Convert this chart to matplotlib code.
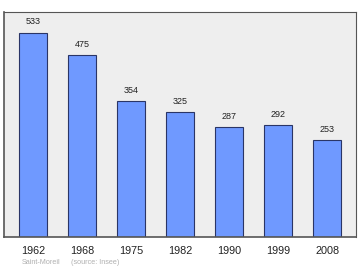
import matplotlib
matplotlib.use("Agg")
from matplotlib import pyplot as plt

years = ["1962", "1968", "1975", "1982", "1990", "1999", "2008"]
population = [533, 475, 354, 325, 287, 292, 253]

plt.rcParams["font.family"] = "Liberation Sans"

fig = plt.figure(figsize=(3.6, 2.7), dpi=100)
ax = fig.add_axes([4 / 360, 1 - 237 / 270, 352 / 360, 225 / 270])
ax.set_facecolor("#eeeeee")

x = list(range(len(years)))
ax.bar(x, population, width=0.57, color="#6f99ff", edgecolor="#2a3566", linewidth=0.8)

for xi, v in zip(x, population):
    ax.annotate(str(v), (xi, v), xytext=(0, 4.5), textcoords="offset points",
                ha="center", va="bottom", fontsize=6.5, color="#222222")

ax.set_xlim(-0.59, 6.59)
ax.set_ylim(0, 587)
ax.set_yticks([])
ax.set_xticks(x)
ax.set_xticklabels(years, fontsize=7.8, color="#222222")
ax.tick_params(axis="x", length=0, pad=6.5)

for side in ["top", "right"]:
    ax.spines[side].set_color("#555555")
    ax.spines[side].set_linewidth(0.8)
for side in ["left", "bottom"]:
    ax.spines[side].set_color("#555555")
    ax.spines[side].set_linewidth(1.2)

fig.text(22 / 360, 1 - 262 / 270, "Saint-Moreil", fontsize=5.2, color="#b0b0b0", va="center")
fig.text(71 / 360, 1 - 262 / 270, "(source: Insee)", fontsize=5.2, color="#b0b0b0", va="center")

fig.savefig("out.png", dpi=100)
